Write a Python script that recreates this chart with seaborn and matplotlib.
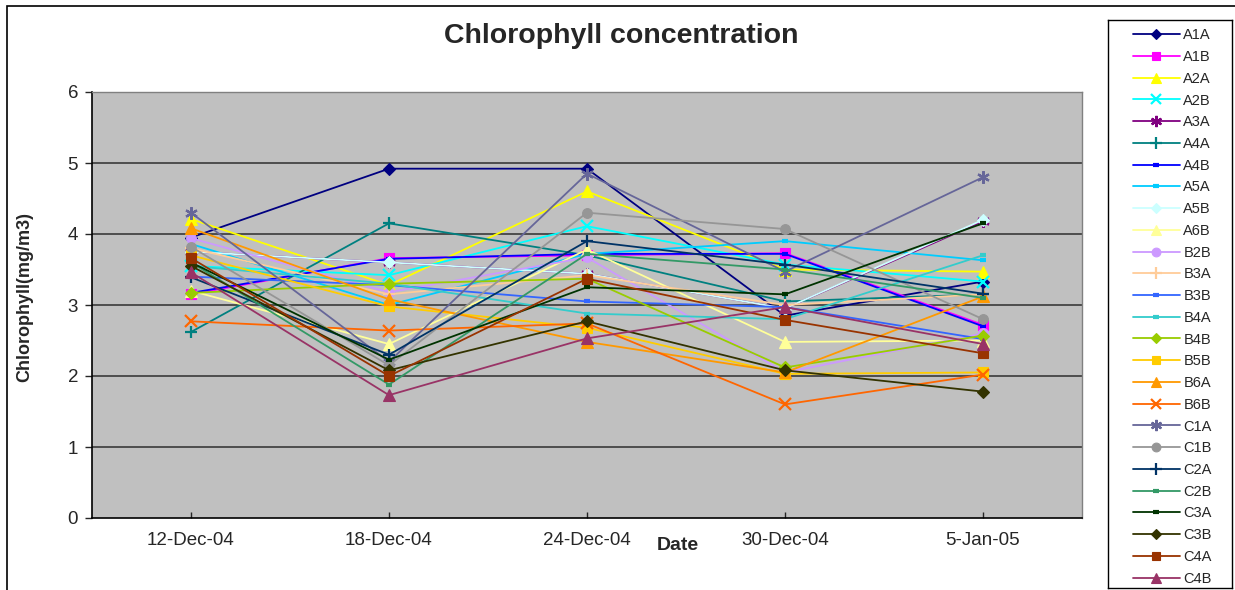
import matplotlib
matplotlib.use("Agg")
import matplotlib.pyplot as plt
import matplotlib.patches as patches
import seaborn as sns

dates = ["12-Dec-04", "18-Dec-04", "24-Dec-04", "30-Dec-04", "5-Jan-05"]

a1a = [3.95, 4.92, 4.92, 2.85, 3.33]
a1b = [3.15, 3.66, 3.70, 3.73, 2.72]
a2a = [4.21, 3.28, 4.60, 3.50, 3.47]
a2b = [3.55, 3.42, 4.11, 3.57, 3.33]
a3a = [3.75, 3.60, 3.44, 2.95, 4.18]
a4a = [2.62, 4.15, 3.70, 3.05, 3.15]
a4b = [3.17, 3.65, 3.72, 3.72, 2.70]
a5a = [3.86, 3.00, 3.72, 3.90, 3.63]
a5b = [3.75, 3.60, 3.44, 2.95, 4.20]
a6b = [3.20, 2.45, 3.78, 2.48, 2.50]
b2b = [3.94, 3.18, 3.67, 2.05, 2.60]
b3a = [3.80, 3.15, 3.42, 3.00, 3.15]
b3b = [3.40, 3.28, 3.05, 2.97, 2.52]
b4a = [3.55, 3.30, 2.88, 2.80, 3.70]
b4b = [3.17, 3.30, 3.37, 2.12, 2.57]
b5b = [3.70, 2.98, 2.68, 2.03, 2.05]
b6a = [4.08, 3.08, 2.48, 2.05, 3.12]
b6b = [2.77, 2.64, 2.74, 1.60, 2.02]
c1a = [4.30, 2.20, 4.85, 3.47, 4.80]
c1b = [3.82, 2.15, 4.30, 4.07, 2.80]
c2a = [3.39, 2.30, 3.90, 3.57, 3.16]
c2b = [3.60, 1.88, 3.72, 3.50, 3.10]
c3a = [3.60, 2.23, 3.25, 3.15, 4.15]
c3b = [3.55, 2.08, 2.77, 2.08, 1.78]
c4a = [3.66, 2.00, 3.37, 2.79, 2.32]
c4b = [3.46, 1.73, 2.53, 2.97, 2.45]

star = (6, 2, 0)
# name, values, colour, marker, size
series = [
    ("A1A", a1a, "#000080", "D", 6),
    ("A1B", a1b, "#FF00FF", "s", 7),
    ("A2A", a2a, "#FFFF00", "^", 8),
    ("A2B", a2b, "#00FFFF", "x", 8),
    ("A3A", a3a, "#800080", star, 9),
    ("A4A", a4a, "#008080", "+", 9),
    ("A4B", a4b, "#0000FF", "_", 5),
    ("A5A", a5a, "#00CCFF", "_", 5),
    ("A5B", a5b, "#CCFFFF", "D", 6),
    ("A6B", a6b, "#FFFF99", "^", 8),
    ("B2B", b2b, "#CC99FF", "o", 7),
    ("B3A", b3a, "#FFCC99", "+", 9),
    ("B3B", b3b, "#3366FF", "_", 5),
    ("B4A", b4a, "#33CCCC", "_", 5),
    ("B4B", b4b, "#99CC00", "D", 6),
    ("B5B", b5b, "#FFCC00", "s", 7),
    ("B6A", b6a, "#FF9900", "^", 8),
    ("B6B", b6b, "#FF6600", "x", 8),
    ("C1A", c1a, "#666699", star, 9),
    ("C1B", c1b, "#969696", "o", 7),
    ("C2A", c2a, "#003366", "+", 9),
    ("C2B", c2b, "#339966", "_", 5),
    ("C3A", c3a, "#003300", "_", 5),
    ("C3B", c3b, "#333300", "D", 6),
    ("C4A", c4a, "#993300", "s", 7),
    ("C4B", c4b, "#993366", "^", 8),
]

sns.set_style("white")
plt.rcParams["font.family"] = ["Liberation Sans", "DejaVu Sans"]

W, H = 1235, 590
fig = plt.figure(figsize=(W / 100, H / 100), dpi=100)

# outer chart border (cropped on the right and bottom)
fig.patches.append(patches.Rectangle((7 / W, -0.1), 1.2, 1 - 6 / H + 0.1,
                                     transform=fig.transFigure, fill=False,
                                     edgecolor="black", linewidth=1.2))

ax = fig.add_axes([92 / W, 1 - 518 / H, (1082 - 92) / W, (518 - 92) / H])
ax.set_facecolor("#C0C0C0")

for name, vals, col, mk, ms in series:
    mew = 1.6 if mk in ("x", "+") or mk == star else 0.8
    if mk == "_":
        mew = 3
    sns.lineplot(x=dates, y=vals, ax=ax, color=col, marker=mk, markersize=ms,
                 markeredgecolor=col, markeredgewidth=mew, linewidth=1.3,
                 label=name, sort=False)

handles, labels = ax.get_legend_handles_labels()
ax.get_legend().remove()

ax.set_xlim(-0.5, 4.5)
ax.set_ylim(0, 6)
ax.set_yticks(range(0, 7))
for y in range(1, 6):
    ax.axhline(y, color="#3a3a3a", linewidth=1.2, zorder=0.5)
ax.tick_params(axis="y", direction="out", length=5, width=1, labelsize=13.5,
               left=True, pad=5)
ax.tick_params(axis="x", direction="in", length=4, width=1, labelsize=13.5,
               bottom=True, pad=10)
for side in ("top", "right"):
    ax.spines[side].set_color("#808080")
    ax.spines[side].set_linewidth(1)
for side in ("left", "bottom"):
    ax.spines[side].set_color("black")
    ax.spines[side].set_linewidth(1.2)
ax.set_xlabel("")
ax.set_ylabel("")

fig.text(621 / W, 1 - 36 / H, "Chlorophyll concentration", ha="center",
         va="center", fontsize=20.5, fontweight="bold")
fig.text(678 / W, 1 - 546 / H, "Date", ha="center", va="center",
         fontsize=14, fontweight="bold")
fig.text(25 / W, 1 - 297 / H, "Chlorophyll(mg/m3)", ha="center", va="center",
         rotation=90, fontsize=13, fontweight="bold")

# legend box
lax = fig.add_axes([1108 / W, 1 - 588 / H, 124 / W, 568 / H])
lax.set_xticks([])
lax.set_yticks([])
for s in lax.spines.values():
    s.set_color("black")
    s.set_linewidth(1)
lax.set_facecolor("white")
lax.legend(handles, labels, loc="center", bbox_to_anchor=(0.52, 0.5 - 3 / 568),
           frameon=False, fontsize=10.5, labelspacing=0.53, handlelength=3.2,
           handletextpad=0.25, markerscale=0.9, borderaxespad=0.2)

fig.savefig("out.png", dpi=100)
